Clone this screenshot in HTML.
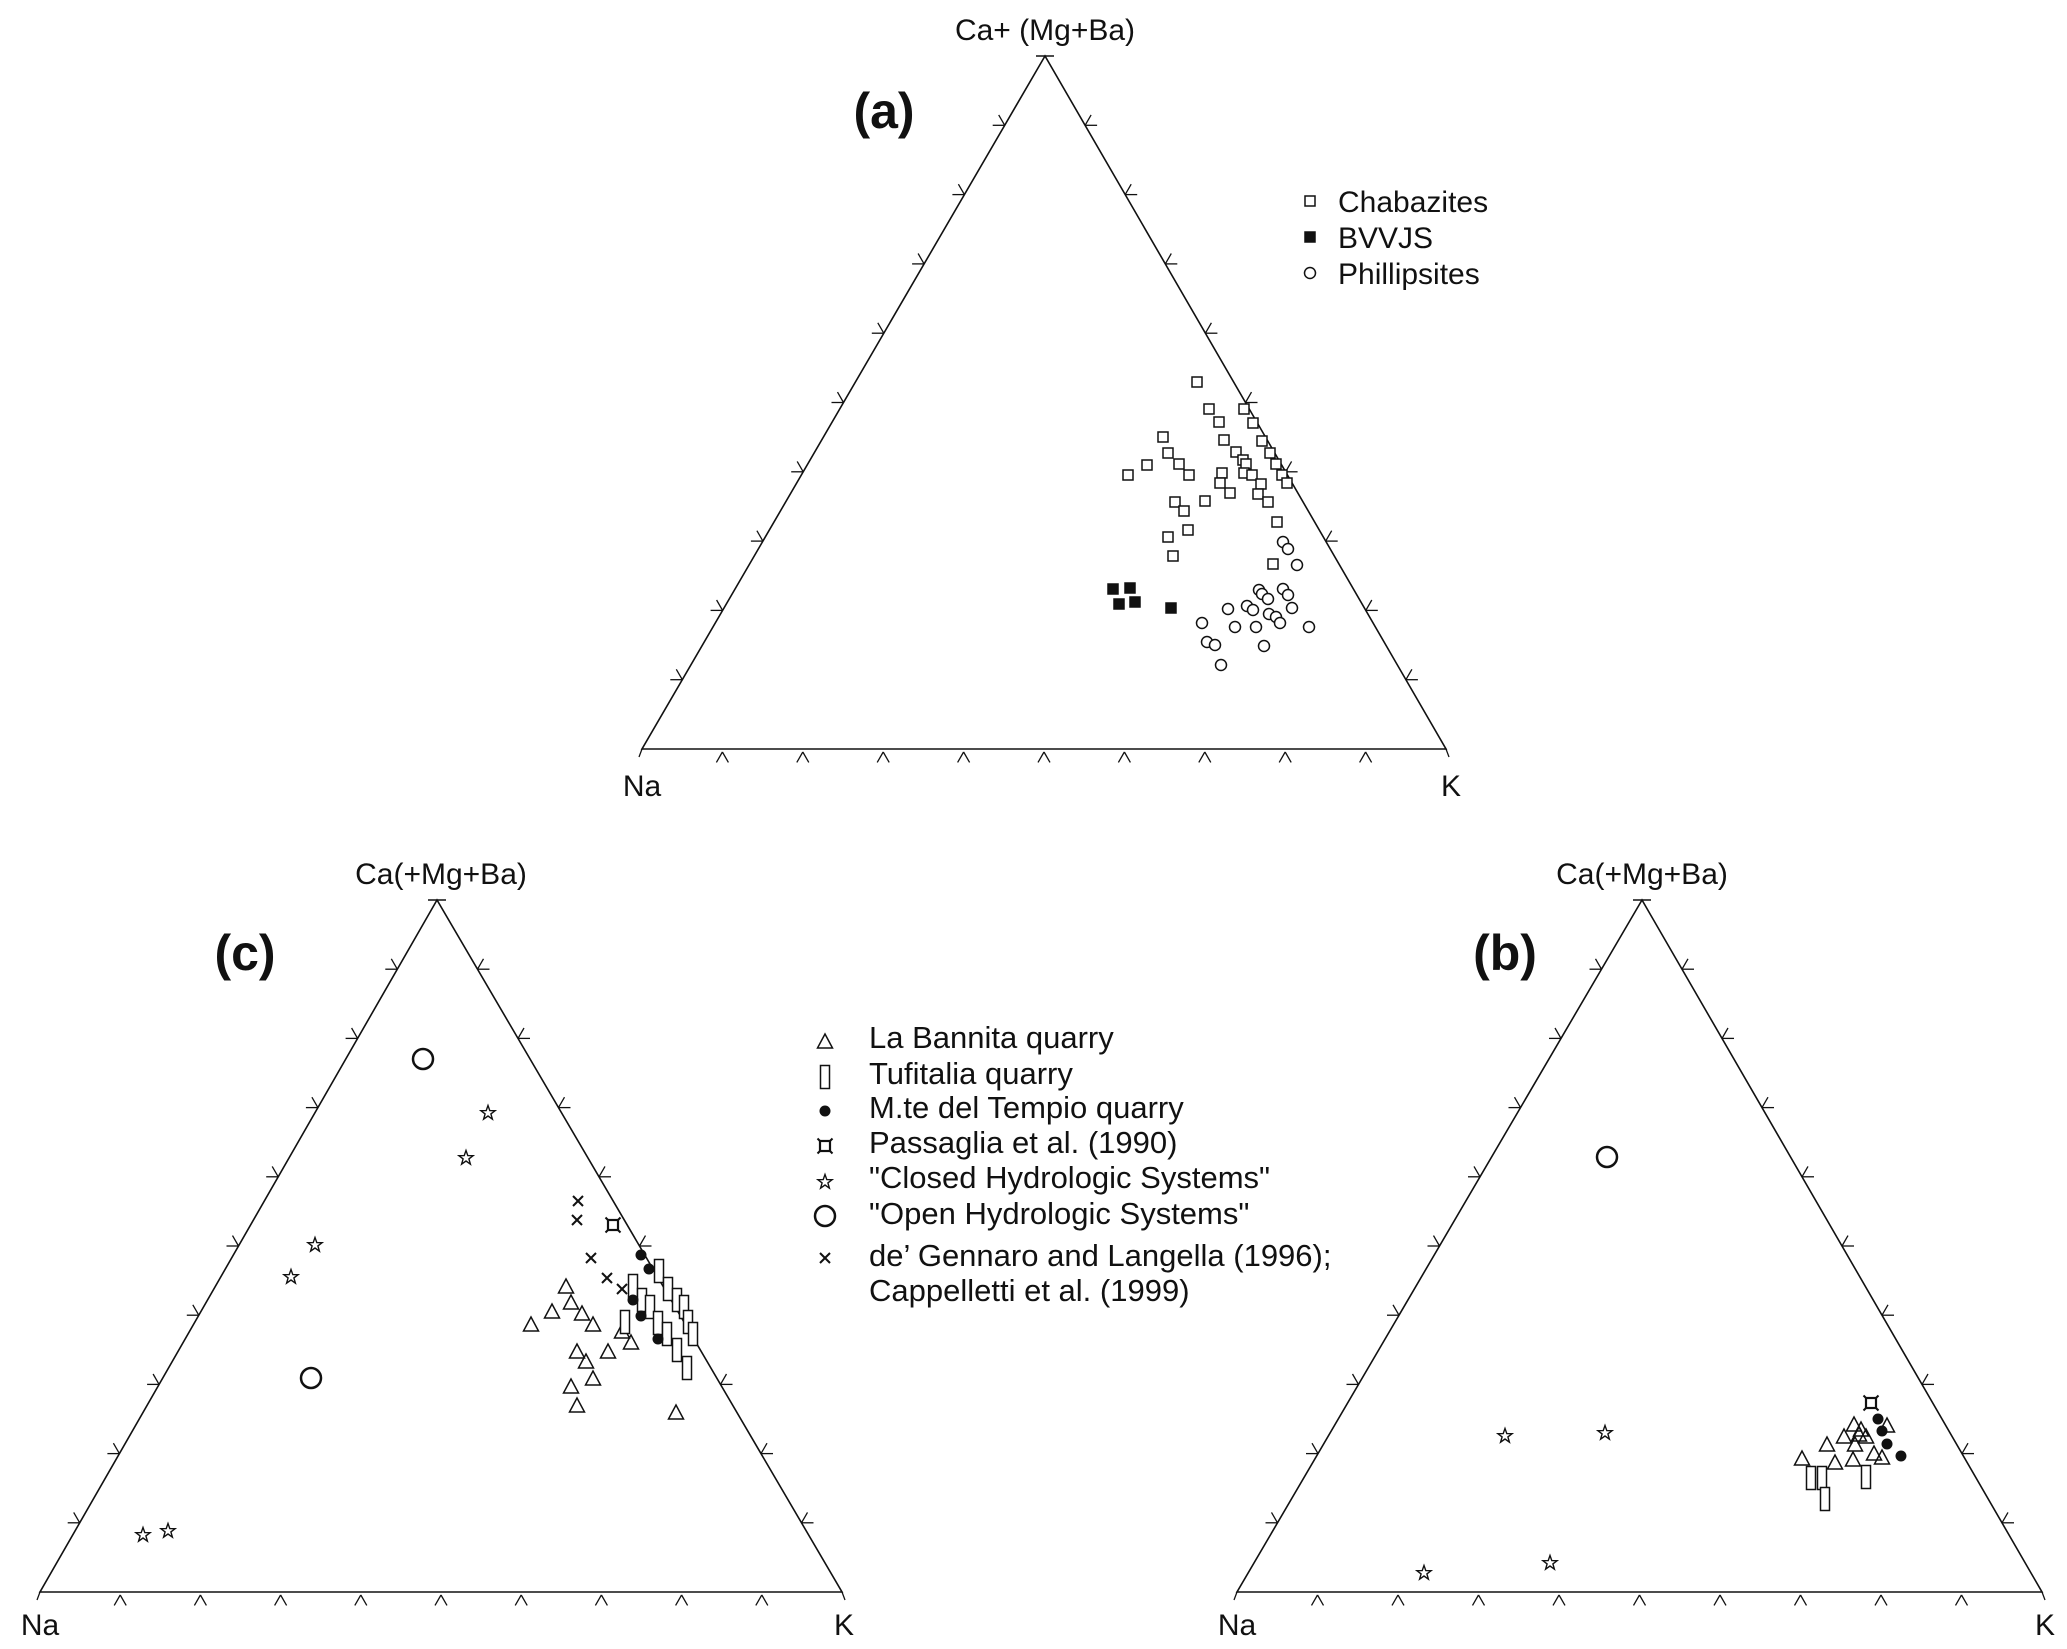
<!DOCTYPE html>
<html><head><meta charset="utf-8"><style>
html,body{margin:0;padding:0;background:#fff}
svg{display:block}
text{font-family:"Liberation Sans",Arial,sans-serif;fill:#111}
</style></head><body>
<svg id="s" width="2067" height="1649" viewBox="0 0 2067 1649" xmlns="http://www.w3.org/2000/svg">
<g id="g" stroke="#111" fill="none" stroke-width="1.6"></g>
<text x="1045" y="40" font-size="30" text-anchor="middle">Ca+ (Mg+Ba)</text>
<text x="884" y="128" font-size="50" font-weight="bold" text-anchor="middle">(a)</text>
<text x="642" y="796" font-size="30" text-anchor="middle">Na</text>
<text x="1451" y="796" font-size="30" text-anchor="middle">K</text>
<text x="1338" y="212" font-size="30">Chabazites</text>
<text x="1338" y="248" font-size="30">BVVJS</text>
<text x="1338" y="284" font-size="30">Phillipsites</text>

<text x="441" y="884" font-size="30" text-anchor="middle">Ca(+Mg+Ba)</text>
<text x="245" y="970" font-size="50" font-weight="bold" text-anchor="middle">(c)</text>
<text x="40" y="1635" font-size="30" text-anchor="middle">Na</text>
<text x="844" y="1635" font-size="30" text-anchor="middle">K</text>

<text x="1642" y="884" font-size="30" text-anchor="middle">Ca(+Mg+Ba)</text>
<text x="1505" y="970" font-size="50" font-weight="bold" text-anchor="middle">(b)</text>
<text x="1237" y="1635" font-size="30" text-anchor="middle">Na</text>
<text x="2045" y="1635" font-size="30" text-anchor="middle">K</text>

<g font-size="31">
<text x="869" y="1048">La Bannita quarry</text>
<text x="869" y="1084">Tufitalia quarry</text>
<text x="869" y="1118">M.te del Tempio quarry</text>
<text x="869" y="1153">Passaglia et al. (1990)</text>
<text x="869" y="1188">"Closed Hydrologic Systems"</text>
<text x="869" y="1224">"Open Hydrologic Systems"</text>
<text x="869" y="1266">de’ Gennaro and Langella (1996);</text>
<text x="869" y="1301">Cappelletti et al. (1999)</text>
</g>
</svg>
<script>
var g=document.getElementById('g'),NS='http://www.w3.org/2000/svg';
function el(t,a){var e=document.createElementNS(NS,t);for(var k in a)e.setAttribute(k,a[k]);g.appendChild(e);return e;}
function line(x1,y1,x2,y2,w){el('line',{x1:x1,y1:y1,x2:x2,y2:y2,'stroke-width':w||1.3});}
function tri(A,B,C){
 el('polygon',{points:[A,B,C].map(p=>p.join(',')).join(' '),'stroke-width':1.6});
 var L=12,c=0.5,s=0.866;
 for(var i=0;i<=10;i++){var t=i/10;
  var x=B[0]+(C[0]-B[0])*t,y=B[1];
  if(i>0&&i<10){line(x,y+3,x-L*c,y+3+L*s);line(x,y+3,x+L*c,y+3+L*s);}
  var lx=B[0]+(A[0]-B[0])*t,ly=B[1]+(A[1]-B[1])*t;
  if(i>0&&i<10){line(lx,ly,lx-L,ly);line(lx,ly,lx-L*c,ly-L*s);}
  var rx=C[0]+(A[0]-C[0])*t,ry=C[1]+(A[1]-C[1])*t;
  if(i>0&&i<10){line(rx,ry,rx+L,ry);line(rx,ry,rx+L*c,ry-L*s);}
 }
 line(A[0]-9,A[1],A[0]+9,A[1],1.6);
 line(B[0],B[1],B[0]-3,B[1]+8);line(C[0],C[1],C[0]+3,C[1]+8);
}
tri([1045,56],[642,749],[1446,749]);
tri([437,900],[40,1592],[842,1592]);
tri([1642,900],[1237,1592],[2042,1592]);
function sq(x,y,f){el('rect',{x:x-5,y:y-5,width:10,height:10,fill:f?'#111':'#fff','stroke-width':1.5});}
function ci(x,y,r,w){el('circle',{cx:x,cy:y,r:r,fill:'#fff','stroke-width':w||1.5});}
function dot(x,y){el('circle',{cx:x,cy:y,r:5.5,fill:'#111',stroke:'none'});}
function tr(x,y){el('polygon',{points:(x)+','+(y-8)+' '+(x-7.5)+','+(y+6)+' '+(x+7.5)+','+(y+6),fill:'none','stroke-width':1.5});}
function rc(x,y){el('rect',{x:x-4.5,y:y-11.5,width:9,height:23,fill:'#fff','stroke-width':1.5});}
function xx(x,y){line(x-5,y-5,x+5,y+5,2);line(x-5,y+5,x+5,y-5,2);}
function ps(x,y){el('rect',{x:x-5,y:y-5,width:10,height:10,fill:'none','stroke-width':2.2});
 [[-1,-1],[1,-1],[-1,1],[1,1]].forEach(d=>line(x+5*d[0],y+5*d[1],x+7.5*d[0],y+7.5*d[1],2));}
function st(x,y){var p=[];for(var i=0;i<10;i++){var r=i%2?3:7.5,a=-Math.PI/2+i*Math.PI/5;p.push((x+r*Math.cos(a)).toFixed(1)+','+(y+r*Math.sin(a)).toFixed(1));}
 el('polygon',{points:p.join(' '),fill:'#fff','stroke-width':1.4});}
[[1197,382],[1209,409],[1244,409],[1219,422],[1253,423],[1163,437],[1224,440],[1262,441],[1168,453],[1236,452],[1270,453],[1243,460],[1246,464],[1147,465],[1179,464],[1276,464],[1128,475],[1189,475],[1222,473],[1244,473],[1252,475],[1282,475],[1220,483],[1261,484],[1287,483],[1175,502],[1205,501],[1230,493],[1258,494],[1268,502],[1184,511],[1188,530],[1277,522],[1168,537],[1173,556],[1273,564]].forEach(p=>sq(p[0],p[1]));
[[1113,589],[1130,588],[1119,604],[1135,602],[1171,608]].forEach(p=>sq(p[0],p[1],1));
[[1283,542],[1288,549],[1297,565],[1259,590],[1283,589],[1262,594],[1288,595],[1268,599],[1247,606],[1253,610],[1292,608],[1228,609],[1269,614],[1276,617],[1280,623],[1202,623],[1235,627],[1256,627],[1309,627],[1207,642],[1215,645],[1264,646],[1221,665]].forEach(p=>ci(p[0],p[1],5.5));
sq(1310,201);sq(1310,237,1);ci(1310,273,5.5);
[[578,1201],[577,1220],[591,1258],[607,1278],[622,1289]].forEach(p=>xx(p[0],p[1]));
ps(613,1225);
[[566,1287],[571,1303],[552,1312],[582,1314],[531,1325],[593,1325],[622,1332],[631,1343],[577,1352],[608,1352],[586,1362],[593,1379],[571,1387],[577,1406],[676,1413]].forEach(p=>tr(p[0],p[1]));
[[659,1271],[633,1286],[668,1289],[642,1300],[677,1300],[650,1307],[684,1307],[625,1322],[658,1323],[688,1322],[667,1334],[693,1334],[677,1350],[687,1368]].forEach(p=>rc(p[0],p[1]));
[[641,1255],[649,1269],[633,1300],[641,1316],[658,1339]].forEach(p=>dot(p[0],p[1]));
ci(423,1059,10,2.5);ci(311,1378,10,2.5);
[[488,1113],[466,1158],[315,1245],[291,1277],[168,1531],[143,1535]].forEach(p=>st(p[0],p[1]));
tr(825,1042);rc(825,1077);dot(825,1111);ps(825,1146);st(825,1182);ci(825,1216,10,2.5);xx(825,1258);
[[1854,1425],[1861,1430],[1887,1426],[1844,1437],[1866,1437],[1855,1445],[1827,1445],[1874,1454],[1882,1458],[1853,1460],[1835,1463],[1802,1459],[1859,1435]].forEach(p=>tr(p[0],p[1]));
[[1811,1478],[1822,1478],[1825,1499],[1866,1477]].forEach(p=>rc(p[0],p[1]));
ps(1871,1403);
[[1878,1419],[1882,1431],[1887,1444],[1901,1456]].forEach(p=>dot(p[0],p[1]));
ci(1607,1157,10,2.5);
[[1505,1436],[1605,1433],[1424,1573],[1550,1563]].forEach(p=>st(p[0],p[1]));
</script>
</body></html>
